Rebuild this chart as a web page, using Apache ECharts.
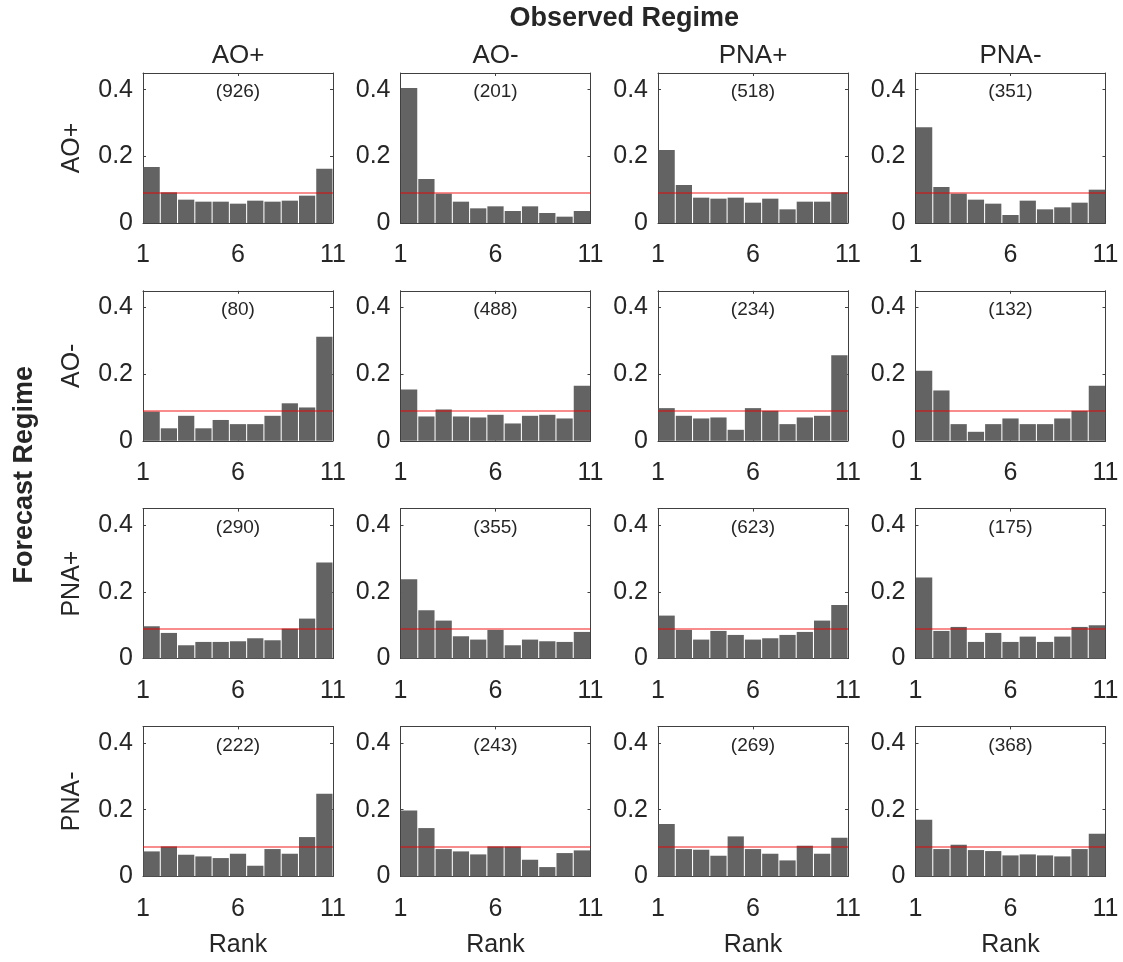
<!DOCTYPE html>
<html>
<head>
<meta charset="utf-8">
<script src="https://cdn.jsdelivr.net/npm/echarts@6/dist/echarts.min.js"></script>
<style>
  html, body { margin: 0; padding: 0; background: #ffffff; }
  #chart { width: 1123px; height: 962px; }
</style>
</head>
<body>
<div id="chart"></div>
<script>
// Rank histograms: forecast regime (rows) vs observed regime (columns)
const observedRegimes = ['AO+', 'AO-', 'PNA+', 'PNA-'];
const forecastRegimes = ['AO+', 'AO-', 'PNA+', 'PNA-'];
const rankBins = ['1', '2', '3', '4', '5', '6', '7', '8', '9', '10', '11'];
const rankTicks = [1, 6, 11];
const freqTicks = [0, 0.2, 0.4];

// number of cases in each forecast/observed pair
const caseCounts = [
  [926, 201, 518, 351],
  [80, 488, 234, 132],
  [290, 355, 623, 175],
  [222, 243, 269, 368]
];

// relative frequency of each rank, forecast AO+
const fcAOpObsAOp = [0.168, 0.092, 0.070, 0.064, 0.064, 0.058, 0.067, 0.064, 0.067, 0.082, 0.163];
const fcAOpObsAOm = [0.405, 0.132, 0.088, 0.064, 0.044, 0.050, 0.036, 0.050, 0.030, 0.019, 0.036];
const fcAOpObsPNAp = [0.219, 0.114, 0.076, 0.073, 0.076, 0.061, 0.073, 0.041, 0.064, 0.064, 0.092];
const fcAOpObsPNAm = [0.287, 0.108, 0.088, 0.070, 0.058, 0.024, 0.067, 0.041, 0.047, 0.061, 0.100];
// forecast AO-
const fcAOmObsAOp = [0.0875, 0.0375, 0.075, 0.0375, 0.0625, 0.05, 0.05, 0.075, 0.1125, 0.1, 0.3125];
const fcAOmObsAOm = [0.154, 0.073, 0.094, 0.073, 0.070, 0.078, 0.052, 0.075, 0.078, 0.067, 0.165];
const fcAOmObsPNAp = [0.098, 0.075, 0.067, 0.070, 0.033, 0.098, 0.090, 0.050, 0.070, 0.075, 0.257];
const fcAOmObsPNAm = [0.210, 0.151, 0.050, 0.027, 0.050, 0.067, 0.050, 0.050, 0.067, 0.090, 0.165];
// forecast PNA+
const fcPNApObsAOp = [0.097, 0.077, 0.040, 0.050, 0.050, 0.052, 0.061, 0.055, 0.090, 0.120, 0.288];
const fcPNApObsAOm = [0.238, 0.145, 0.114, 0.067, 0.057, 0.086, 0.040, 0.057, 0.052, 0.050, 0.080];
const fcPNApObsPNAp = [0.129, 0.086, 0.057, 0.083, 0.071, 0.057, 0.061, 0.071, 0.080, 0.114, 0.161];
const fcPNApObsPNAm = [0.243, 0.083, 0.095, 0.050, 0.077, 0.050, 0.066, 0.050, 0.066, 0.095, 0.100];
// forecast PNA-
const fcPNAmObsAOp = [0.075, 0.090, 0.065, 0.060, 0.055, 0.068, 0.032, 0.082, 0.068, 0.118, 0.248];
const fcPNAmObsAOm = [0.198, 0.145, 0.082, 0.075, 0.066, 0.090, 0.090, 0.050, 0.028, 0.070, 0.078];
const fcPNAmObsPNAp = [0.157, 0.082, 0.080, 0.062, 0.120, 0.082, 0.068, 0.048, 0.092, 0.068, 0.116];
const fcPNAmObsPNAm = [0.170, 0.082, 0.095, 0.079, 0.076, 0.063, 0.066, 0.063, 0.060, 0.082, 0.128];

const rankFreq = [
  [fcAOpObsAOp, fcAOpObsAOm, fcAOpObsPNAp, fcAOpObsPNAm],
  [fcAOmObsAOp, fcAOmObsAOm, fcAOmObsPNAp, fcAOmObsPNAm],
  [fcPNApObsAOp, fcPNApObsAOm, fcPNApObsPNAp, fcPNApObsPNAm],
  [fcPNAmObsAOp, fcPNAmObsAOm, fcPNAmObsPNAp, fcPNAmObsPNAm]
];
// flat rank histogram expected for an 11-bin reliable ensemble
const uniformFreq = 1 / rankBins.length;

// ---- layout ----
const FONT = "'Liberation Sans', Arial, Helvetica, sans-serif";
const INK = '#262626';
const AXIS = '#404040';
const X0 = 143, DX = 257.5, W = 190;
const Y0 = 73, DY = 217.8, H = 150;

const chart = echarts.init(document.getElementById('chart'), null, { renderer: 'canvas' });

const grids = [], xAxes = [], yAxes = [], series = [], graphics = [];

function tickLabel(v) {
  const r = Math.round(v * 100) / 100;
  return freqTicks.indexOf(r) >= 0 ? String(r) : '';
}

for (let r = 0; r < 4; r++) {
  for (let c = 0; c < 4; c++) {
    const k = r * 4 + c;
    const left = X0 + c * DX, top = Y0 + r * DY;
    grids.push({ left: left, top: top, width: W, height: H, containLabel: false });

    const lineStyle = { color: AXIS, width: 1 };
    // bins for the bars
    xAxes.push({
      type: 'category', gridIndex: k, data: rankBins, boundaryGap: true, show: false
    });
    // rank scale with tick labels
    xAxes.push({
      type: 'value', gridIndex: k, position: 'bottom', min: 1, max: 11, interval: 5,
      axisLine: { show: true, onZero: false, lineStyle: lineStyle },
      axisTick: { show: true, inside: true, length: 3, lineStyle: lineStyle },
      axisLabel: { show: true, fontSize: 25, fontFamily: FONT, color: INK, margin: 20,
                   formatter: v => rankTicks.indexOf(v) >= 0 ? String(v) : '' },
      splitLine: { show: false },
      name: r === 3 ? 'Rank' : '', nameLocation: 'middle', nameGap: 56,
      nameTextStyle: { fontSize: 25, fontFamily: FONT, color: INK }
    });
    // mirrored ticks along the top edge
    xAxes.push({
      type: 'value', gridIndex: k, position: 'top', min: 1, max: 11, interval: 5,
      axisLine: { show: true, onZero: false, lineStyle: lineStyle },
      axisTick: { show: true, inside: true, length: 3, lineStyle: lineStyle },
      axisLabel: { show: false }, splitLine: { show: false }
    });
    yAxes.push({
      type: 'value', gridIndex: k, position: 'left', min: 0, max: 0.45, interval: 0.2,
      axisLine: { show: true, onZero: false, lineStyle: lineStyle },
      axisTick: { show: true, inside: true, length: 3, lineStyle: lineStyle },
      axisLabel: { show: true, fontSize: 25, fontFamily: FONT, color: INK, margin: 10,
                   padding: [6, 0, 0, 0], showMaxLabel: false, formatter: tickLabel },
      splitLine: { show: false },
      name: c === 0 ? forecastRegimes[r] : '', nameLocation: 'middle', nameRotate: 90, nameGap: 58,
      nameTextStyle: { fontSize: 25, fontFamily: FONT, color: INK }
    });
    yAxes.push({
      type: 'value', gridIndex: k, position: 'right', min: 0, max: 0.45, interval: 0.2,
      axisLine: { show: true, onZero: false, lineStyle: lineStyle },
      axisTick: { show: true, inside: true, length: 3, lineStyle: lineStyle },
      axisLabel: { show: false }, splitLine: { show: false }
    });

    series.push({
      type: 'bar', xAxisIndex: 3 * k, yAxisIndex: 2 * k,
      data: rankFreq[r][c], barCategoryGap: '6%',
      itemStyle: { color: '#636363' },
      silent: true,
      markLine: {
        silent: true, symbol: 'none', label: { show: false },
        lineStyle: { color: 'rgba(240,0,0,0.6)', width: 1.5, type: 'solid' },
        data: [{ yAxis: uniformFreq }]
      }
    });

    // case count above each histogram
    graphics.push({
      type: 'text', x: left + W / 2, y: top + 19,
      style: { text: '(' + caseCounts[r][c] + ')', fill: INK, font: '19px ' + FONT,
               textAlign: 'center', textVerticalAlign: 'middle' }
    });
  }
}

// column headers
for (let c = 0; c < 4; c++) {
  graphics.push({
    type: 'text', x: X0 + c * DX + W / 2, y: Y0 - 17,
    style: { text: observedRegimes[c], fill: INK, font: '26px ' + FONT,
             textAlign: 'center', textVerticalAlign: 'middle' }
  });
}
graphics.push({
  type: 'text', x: X0 + (3 * DX + W) / 2, y: 19,
  style: { text: 'Observed Regime', fill: INK, font: 'bold 27px ' + FONT,
           textAlign: 'center', textVerticalAlign: 'middle' }
});
graphics.push({
  type: 'text', x: 25, y: Y0 + (3 * DY + H) / 2, rotation: Math.PI / 2,
  style: { text: 'Forecast Regime', fill: INK, font: 'bold 27px ' + FONT,
           textAlign: 'center', textVerticalAlign: 'middle' }
});

chart.setOption({
  animation: false,
  backgroundColor: '#ffffff',
  grid: grids,
  xAxis: xAxes,
  yAxis: yAxes,
  series: series,
  graphic: graphics
});
</script>
</body>
</html>
